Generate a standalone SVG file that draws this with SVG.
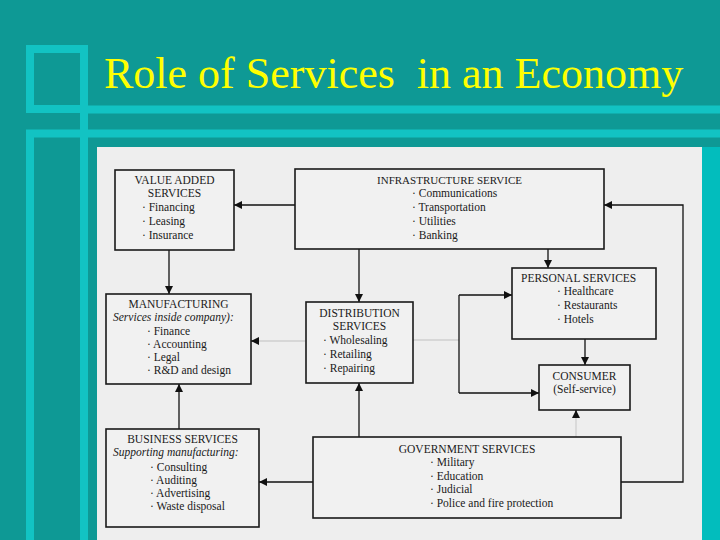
<svg xmlns="http://www.w3.org/2000/svg" width="720" height="540" viewBox="0 0 720 540">
<style>
.deco{fill:none;stroke:#12C3C3;stroke-width:8}
.box{fill:#F1F1F1;stroke:#1a1a1a;stroke-width:1.6}
.title{font-family:"Liberation Serif","Times New Roman",serif;font-size:44px;fill:#FFFF00;white-space:pre}
.t{font-family:"Liberation Serif","Times New Roman",serif;font-size:11.5px;fill:#1a1a1a}
.c{text-anchor:middle}
.i{font-style:italic}
.ln{fill:none;stroke:#111;stroke-width:1.3}
.faint{fill:none;stroke:#cfcfcf;stroke-width:1.3}
</style>
<defs>
<marker id="ah" markerUnits="userSpaceOnUse" markerWidth="9" markerHeight="9" refX="8" refY="4" orient="auto">
<path d="M0,0 L8,4 L0,8 z" fill="#111"/>
</marker>
</defs>
<rect x="0" y="0" width="720" height="540" fill="#0E9995"/>
<rect x="702" y="147" width="18" height="393" fill="#02BDBD"/>
<g id="decoration">
<rect class="deco" x="30" y="49" width="54" height="60"/>
<line class="deco" x1="84" y1="109.5" x2="720" y2="109.5"/>
<line class="deco" x1="84" y1="49" x2="84" y2="540"/>
<line class="deco" x1="26" y1="133.5" x2="720" y2="133.5"/>
<line class="deco" x1="30" y1="130" x2="30" y2="540"/>
</g>
<text class="title" x="104" y="88" xml:space="preserve">Role of Services  in an Economy</text>
<rect x="97" y="147" width="605" height="393" fill="#EEEEEE"/>
<g id="connectors">
<path class="ln" d="M295,205 H234" marker-end="url(#ah)"/>
<path class="ln" d="M621,482 H683 V205 H604" marker-end="url(#ah)"/>
<path class="ln" d="M169,250 V294" marker-end="url(#ah)"/>
<path class="ln" d="M359,249 V302" marker-end="url(#ah)"/>
<path class="ln" d="M548,249 V268" marker-end="url(#ah)"/>
<path class="faint" d="M305,341 H258"/>
<path class="ln" d="M258,341 H251" marker-end="url(#ah)"/>
<path class="faint" d="M413,340 H459"/>
<path class="ln" d="M459,295 V393"/>
<path class="ln" d="M459,295 H512" marker-end="url(#ah)"/>
<path class="ln" d="M459,393 H539" marker-end="url(#ah)"/>
<path class="ln" d="M585,339 V365" marker-end="url(#ah)"/>
<path class="ln" d="M179,429 V384" marker-end="url(#ah)"/>
<path class="ln" d="M359,437 V383" marker-end="url(#ah)"/>
<path class="ln" d="M313,482 H259" marker-end="url(#ah)"/>
<path class="faint" d="M576,437 V418"/>
<path class="ln" d="M576,418 V410" marker-end="url(#ah)"/>
</g>
<g id="value-added">
<rect class="box" x="115" y="170" width="119" height="80"/>
<text class="t c" x="174.5" y="184">VALUE ADDED</text>
<text class="t c" x="174.5" y="197">SERVICES</text>
<text class="t" x="142" y="211">· Financing</text>
<text class="t" x="142" y="225">· Leasing</text>
<text class="t" x="142" y="239">· Insurance</text>
</g>
<g id="infrastructure">
<rect class="box" x="295" y="169" width="309" height="80"/>
<text class="t c" x="449.5" y="184" style="font-size:11px">INFRASTRUCTURE SERVICE</text>
<text class="t" x="412" y="197">· Communications</text>
<text class="t" x="412" y="211">· Transportation</text>
<text class="t" x="412" y="225">· Utilities</text>
<text class="t" x="412" y="239">· Banking</text>
</g>
<g id="personal">
<rect class="box" x="512" y="268" width="144" height="71"/>
<text class="t" x="521" y="282">PERSONAL SERVICES</text>
<text class="t" x="557" y="295">· Healthcare</text>
<text class="t" x="557" y="309">· Restaurants</text>
<text class="t" x="557" y="323">· Hotels</text>
</g>
<g id="manufacturing">
<rect class="box" x="106" y="294" width="145" height="90"/>
<text class="t c" x="178.5" y="308">MANUFACTURING</text>
<text class="t i" x="113" y="321">Services inside company):</text>
<text class="t" x="147" y="335">· Finance</text>
<text class="t" x="147" y="348">· Accounting</text>
<text class="t" x="147" y="361">· Legal</text>
<text class="t" x="147" y="374">· R&amp;D and design</text>
</g>
<g id="distribution">
<rect class="box" x="306" y="302" width="107" height="81"/>
<text class="t c" x="359.5" y="317">DISTRIBUTION</text>
<text class="t c" x="359.5" y="330">SERVICES</text>
<text class="t" x="323" y="344">· Wholesaling</text>
<text class="t" x="323" y="358">· Retailing</text>
<text class="t" x="323" y="372">· Repairing</text>
</g>
<g id="consumer">
<rect class="box" x="539" y="365" width="91" height="45"/>
<text class="t c" x="584.5" y="380">CONSUMER</text>
<text class="t c" x="584.5" y="393">(Self-service)</text>
</g>
<g id="business">
<rect class="box" x="106" y="429" width="153" height="98"/>
<text class="t c" x="182.5" y="443">BUSINESS SERVICES</text>
<text class="t i" x="113" y="456">Supporting manufacturing:</text>
<text class="t" x="150" y="471">· Consulting</text>
<text class="t" x="150" y="484">· Auditing</text>
<text class="t" x="150" y="497">· Advertising</text>
<text class="t" x="150" y="510">· Waste disposal</text>
</g>
<g id="government">
<rect class="box" x="313" y="437" width="308" height="81"/>
<text class="t c" x="467" y="453">GOVERNMENT SERVICES</text>
<text class="t" x="430" y="466">· Military</text>
<text class="t" x="430" y="480">· Education</text>
<text class="t" x="430" y="493">· Judicial</text>
<text class="t" x="430" y="507">· Police and fire protection</text>
</g>
</svg>
